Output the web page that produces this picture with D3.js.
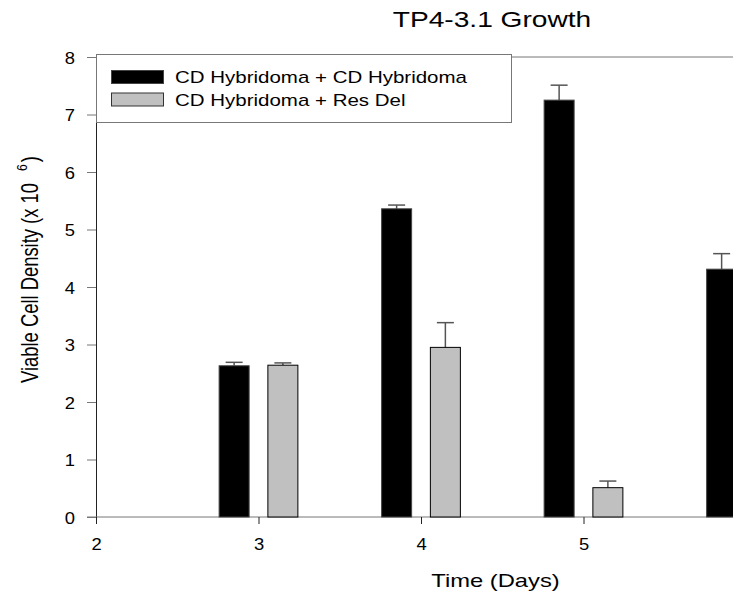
<!DOCTYPE html>
<html>
<head>
<meta charset="utf-8">
<script src="https://cdn.jsdelivr.net/npm/d3@7"></script>
<style>
  body { margin: 0; background: white; }
  svg { display: block; }
  text { font-family: "Liberation Sans", Arial, sans-serif; fill: black; }
</style>
</head>
<body>
<script>
// values
let days = [3, 4, 5, 6]
let hybridoma_mean = [2.63, 5.36, 7.25, 4.31]
let hybridoma_err = [0.06, 0.065, 0.26, 0.27]
let resdel_days = [3, 4, 5]
let resdel_mean = [2.64, 2.95, 0.51]
let resdel_err = [0.04, 0.43, 0.115]
let x_ticks = [2, 3, 4, 5]
let y_ticks = [0, 1, 2, 3, 4, 5, 6, 7, 8]
let series_names = ['CD Hybridoma + CD Hybridoma', 'CD Hybridoma + Res Del']
let title = 'TP4-3.1 Growth'
let x_title = 'Time (Days)'

let x_size = 733
let y_size = 596
let stretch = 1.25          // the original picture is drawn wide
let axis_color = '#777'
let err_color = '#555'
let black_fill = '#000'
let gray_fill = '#c0c0c0'
let bar_offset = 0.15
let bar_width = 30
let cap_width = 17

let x = d3.scaleLinear().domain([2, 6.5]).range([96, 827.25])
let y = d3.scaleLinear().domain([0, 8]).range([517, 57])

let svg = d3.select('body').append('svg')
    .attr('width', x_size)
    .attr('height', y_size)

function wide_text(g, px, py, str, size, anchor, sx) {
    return g.append('text')
        .attr('transform', `translate(${px},${py}) scale(${sx || stretch},1)`)
        .attr('text-anchor', anchor)
        .style('font-size', size + 'px')
        .text(str)
}

// frame top and axes
svg.append('line')
    .attr('x1', x(2)).attr('x2', x_size)
    .attr('y1', y(8)).attr('y2', y(8))
    .attr('stroke', axis_color)

let y_axis = svg.append('g')
    .attr('transform', `translate(${x(2)},0)`)
    .call(d3.axisLeft(y).tickValues(y_ticks).tickFormat(d3.format('d')).tickSize(9).tickSizeOuter(0))
y_axis.select('.domain').attr('stroke', '#222')
y_axis.selectAll('.tick line').attr('stroke', axis_color)
y_axis.selectAll('.tick text')
    .attr('x', null).attr('dy', null)
    .attr('transform', `translate(-21,6) scale(1.15,1)`)
    .style('font-size', '16px')
    .style('font-family', '"Liberation Sans", Arial, sans-serif')
    .attr('fill', 'black')

let x_axis = svg.append('g')
    .attr('transform', `translate(0,${y(0)})`)
    .call(d3.axisBottom(x).tickValues(x_ticks).tickFormat(d3.format('d')).tickSize(7).tickSizeOuter(0))
x_axis.select('.domain').attr('stroke', axis_color)
    .attr('d', `M${x(2) - 9},0H${x_size}`)
x_axis.selectAll('.tick line').attr('stroke', '#222')
x_axis.selectAll('.tick text')
    .attr('y', null).attr('dy', null)
    .attr('transform', `translate(0,33) scale(1.15,1)`)
    .style('font-size', '16px')
    .style('font-family', '"Liberation Sans", Arial, sans-serif')
    .attr('fill', 'black')

// bars
function draw_series(ds, means, errs, offset, fill, stroke) {
    let data = ds.map((d, i) => ({day: d, mean: means[i], err: errs[i]}))
    let g = svg.append('g')
    g.selectAll('line.stem')
        .data(data).enter()
        .append('line')
        .attr('x1', d => x(d.day + offset)).attr('x2', d => x(d.day + offset))
        .attr('y1', d => y(d.mean)).attr('y2', d => y(d.mean + d.err))
        .attr('stroke', err_color).attr('stroke-width', 1.5)
    g.selectAll('line.cap')
        .data(data).enter()
        .append('line')
        .attr('x1', d => x(d.day + offset) - cap_width / 2)
        .attr('x2', d => x(d.day + offset) + cap_width / 2)
        .attr('y1', d => y(d.mean + d.err)).attr('y2', d => y(d.mean + d.err))
        .attr('stroke', err_color).attr('stroke-width', 1.5)
    g.selectAll('rect')
        .data(data).enter()
        .append('rect')
        .attr('x', d => x(d.day + offset) - bar_width / 2)
        .attr('width', bar_width)
        .attr('y', d => y(d.mean))
        .attr('height', d => y(0) - y(d.mean))
        .attr('fill', fill)
        .attr('stroke', stroke)
}
draw_series(days, hybridoma_mean, hybridoma_err, -bar_offset, black_fill, '#444')
draw_series(resdel_days, resdel_mean, resdel_err, bar_offset, gray_fill, '#000')

// legend
let legend = svg.append('g')
legend.append('rect')
    .attr('x', 96.5).attr('y', 54.5)
    .attr('width', 415).attr('height', 68)
    .attr('fill', 'white').attr('stroke', axis_color)
let swatches = [black_fill, gray_fill]
series_names.forEach((name, i) => {
    legend.append('rect')
        .attr('x', 111.5).attr('y', 70.5 + i * 22.5)
        .attr('width', 52).attr('height', 13)
        .attr('fill', swatches[i])
        .attr('stroke', i ? '#333' : '#444')
    wide_text(legend, 175, 83 + i * 22.8, name, 16.4, 'start')
})

// titles
wide_text(svg, 492, 27, title, 22.5, 'middle')
wide_text(svg, 495.5, 587, x_title, 19, 'middle')

let y_label = svg.append('text')
    .attr('transform', `translate(38,383) scale(${stretch},1) rotate(-90)`)
    .style('font-size', '18.4px')
y_label.append('tspan').text('Viable Cell Density (x 10')
y_label.append('tspan').attr('dx', 12).attr('dy', -9).style('font-size', '12px').text('6')
y_label.append('tspan').attr('dx', 2).attr('dy', 9).text(')')
</script>
</body>
</html>
